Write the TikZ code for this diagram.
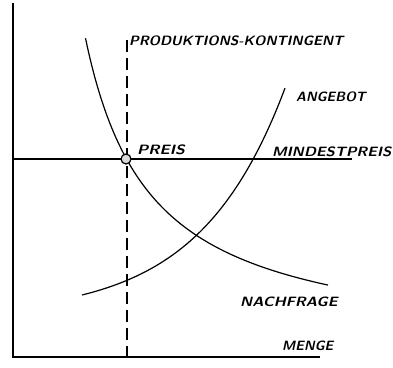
\documentclass[tikz,border=0pt]{standalone}
\usetikzlibrary{positioning}
\tikzset{
  axis/.style={line width=1.6pt},
  curve/.style={line width=1.2pt},
  kontingent/.style={line width=1.2pt, dash pattern=on 12pt off 6pt},
  lbl/.style={font=\fontsize{13.5}{15}\sffamily\bfseries\slshape, inner sep=0pt, anchor=base west}
}
\newcommand{\wide}[2]{\scalebox{#1}[1]{#2}}
\begin{document}
\begin{tikzpicture}[x=1pt, y=-1pt]
    \useasboundingbox (0, 0) rectangle (393, 367);
    \coordinate (O) at (13, 357);
    \coordinate (Ytop) at (13, 3);
    \coordinate (Xend) at (320, 357);
    \coordinate (P) at (126, 159);
    % Axes
    \draw[axis] (Ytop) -- (O) -- (Xend);
    % Minimum price line
    \coordinate (Mleft) at (13, 159);
    \coordinate (Mright) at (352, 159);
    \draw[line width=1.1pt] (Mleft) -- (Mright);
    % Production quota, dashed
    \coordinate (Ktop) at (127, 40);
    \coordinate (Kbot) at (127, 360);
    \draw[kontingent] (Ktop) -- (Kbot);
    % Demand
    \draw[curve] plot[domain=85.5:328, samples=80] (\x, {351.7-205.27/((\x-20)/100)});
    % Supply
    \draw[curve] plot[domain=82:285, samples=80] (\x, {316.2-21.2*exp(0.0117*(\x-82))});
    % Price point
    \draw[line width=1.2pt, fill=gray!30] (P) circle (5);
    % Labels
    \node[lbl] (kont) at (129, 45) {\wide{1.04}{PRODUKTIONS-KONTINGENT}};
    \node[lbl] (angebot) at (296, 101) {ANGEBOT};
    \node[lbl] (preis) at (137, 154) {\wide{1.18}{PREIS}};
    \node[lbl] (mindest) at (272, 156) {\wide{1.12}{MINDESTPREIS}};
    \node[lbl] (nachfrage) at (240, 306) {\wide{1.13}{NACHFRAGE}};
    \node[lbl] (menge) at (282, 350) {MENGE};
\end{tikzpicture}
\end{document}
